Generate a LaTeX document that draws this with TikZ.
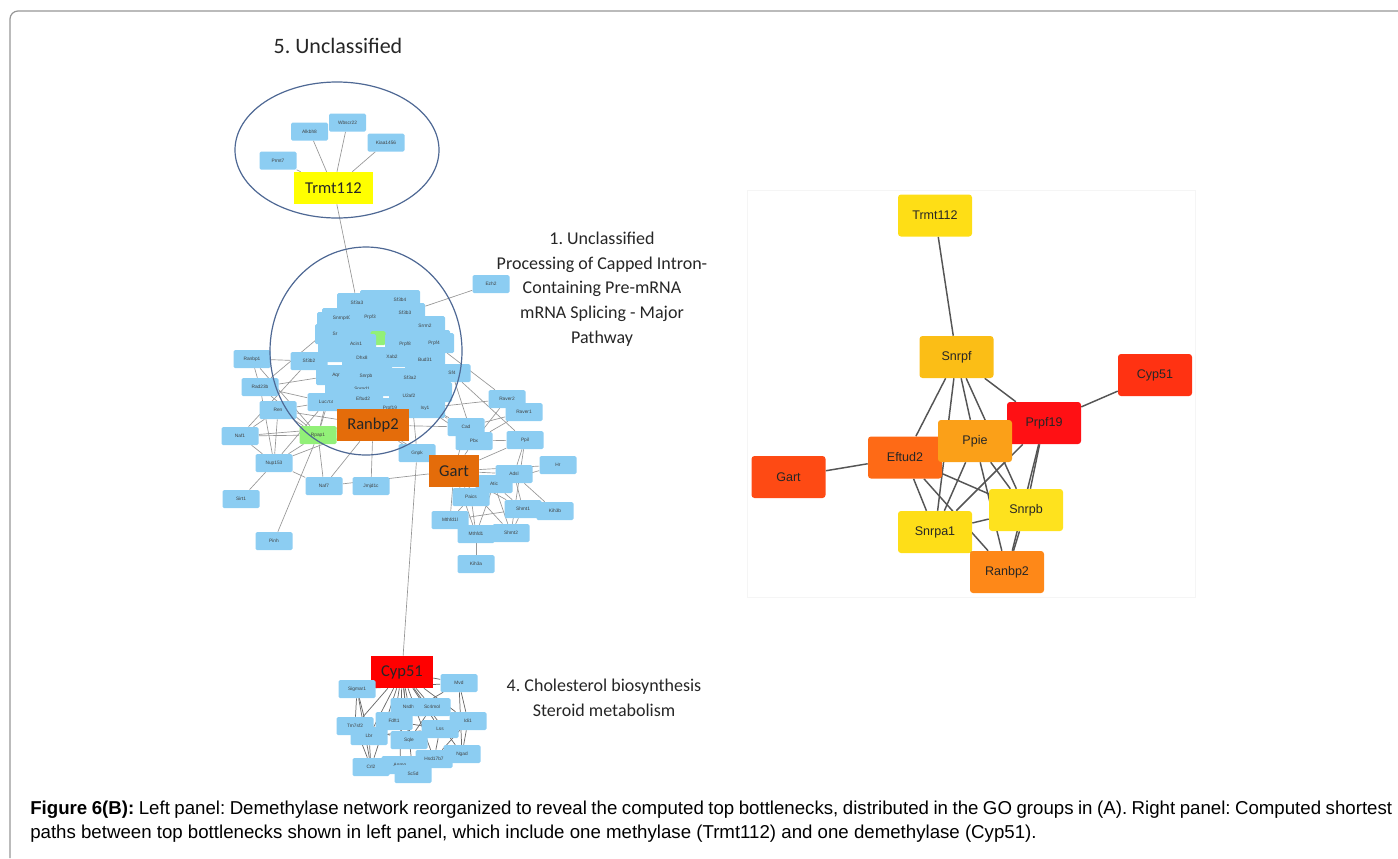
\documentclass[tikz,border=0pt]{standalone}
\usepackage{fontspec}
\setmainfont{Liberation Sans}
\newfontfamily\calibri{Carlito}
\usetikzlibrary{backgrounds}
\frenchspacing

\newdimen\px \px=0.75pt

\definecolor{geneblue}{RGB}{140,205,242}
\definecolor{genegreen}{RGB}{146,240,120}
\definecolor{hubyellow}{RGB}{255,255,0}
\definecolor{huborange}{RGB}{228,108,10}
\definecolor{hubred}{RGB}{255,0,0}
\definecolor{groupblue}{RGB}{78,104,148}
\definecolor{edgegray}{RGB}{150,150,150}
\definecolor{edgedark}{RGB}{105,105,105}
\definecolor{pathgray}{RGB}{85,85,85}
\definecolor{framegray}{RGB}{150,150,150}
\definecolor{cTrmt}{RGB}{254,222,22}
\definecolor{cSnrpf}{RGB}{251,190,22}
\definecolor{cCyp}{RGB}{255,50,18}
\definecolor{cPrpf}{RGB}{255,16,20}
\definecolor{cPpie}{RGB}{251,160,24}
\definecolor{cEftud}{RGB}{254,106,22}
\definecolor{cGart}{RGB}{254,74,20}
\definecolor{cSnrpb}{RGB}{254,226,30}
\definecolor{cSnrpa}{RGB}{254,222,24}
\definecolor{cRanbp}{RGB}{254,136,24}

\tikzset{
  gene/.style={fill=geneblue, rounded corners=1.5\px, minimum width=37\px, minimum height=18\px,
    inner sep=0pt, text=black!75, font=\fontsize{3.6}{4}\selectfont},
  blobgene/.style={gene, minimum width=40\px, minimum height=20\px},
  hub/.style={inner sep=0pt, minimum height=32\px, text=black!85, font=\calibri\fontsize{12.4}{13}\selectfont},
  pathnode/.style={rounded corners=3\px, minimum width=74\px, minimum height=42\px, inner sep=0pt,
    text=black!85, font=\fontsize{9.4}{10}\selectfont},
  edge/.style={draw=edgegray, line width=0.5pt},
  cedge/.style={draw=edgedark, line width=0.55pt},
  pathedge/.style={draw=pathgray, line width=1.1pt},
  group/.style={draw=groupblue, line width=0.9pt},
  grouplabel/.style={align=center, text=black!85, font=\calibri\fontsize{13.5}{18.6}\selectfont}
}

\begin{document}
\begin{tikzpicture}[x=0.75pt, y=-0.75pt]
\useasboundingbox (0,0) rectangle (1398,858);
% draw frame
\draw[framegray, line width=0.9pt, rounded corners=8\px] (10,858) -- (10,11) -- (1398,11);
\draw[black!4] (747,190) rectangle (1195,597);

% draw left network: small genes
\foreach \n/\x/\y/\t in {
  Prmt7/278/160.5/Prmt7, Alkbh8/309.5/131.5/Alkbh8, Wbscr22/347.5/122.5/Wbscr22, Kiaa1456/386/142.5/Kiaa1456,
  Ezh2/491/284/Ezh2, Ranbpl/252/359/Ranbp1, Rad23b/260/387/Rad23b, Ren/278/410/Ren,
  Naf1/240/436/Naf1, Nup153/274/463/Nup153, Naf7/324/486/Naf7, Jmjd1c/371/486/Jmjd1c,
  Sirt1/241/499/Sirt1, Pinh/274/541/Pinh, Luc7l3/326/402/Luc7l3,
  Raver2/507/399/Raver2, Raver1/524/412/Raver1, Cad/466/427/Cad, Pbx/474/441/Pbx, Ppil/525/440/Ppil,
  Gnpk/417/453/Gnpk, Hr/558/465/Hr, Adsl/514/474/Adsl, Atic/494/484/Atic, Paics/471/497/Paics,
  Shmt1/523/509/Shmt1, Kih3b/555/511/Kih3b, Mthfd1l/450/520/Mthfd1l, Mthfd1/476/534/Mthfd1,
  Shmt2/511/533/Shmt2, Kih3a/476/564/Kih3a}
  \node[gene] (\n) at (\x,\y) {\t};
\node[gene, fill=genegreen] (Rpap1) at (318,435) {Rpap1};

% draw splicing cluster
\foreach \n/\x/\y in {f1/337/322, f2/372/326, f3/430/340, f4/338/352, f5/372/368,
  f6/430/376, f7/345/390, f8/432/392, f9/395/386, f10/380/300, f11/412/326}
  \node[blobgene] (\n) at (\x,\y) {};
\node[gene, fill=genegreen, minimum width=15\px, minimum height=14\px] (Ppie) at (378,338) {};
\foreach \n/\x/\y/\t in {
  Sf3b4/400/300/Sf3b4, Sf3a3/357/303/Sf3a3, Snrnp40/342/318/Snrnp40, Prpf3/370/317/Prpf3,
  Sf3b3/405/313/Sf3b3, Srrm2/425/326/Srrm2, Srsf1/335/334/Sr, Acin1/356/344/Acin1,
  Prpf8/405/344/Prpf8, Prpf4/434/343/Prpf4, Dhx8/362/358/Dhx8, Xab2/392/357/Xab2,
  Bud31/425/360/Bud31, Aqr/336/375/Aqr, Snrpb/366/376/Snrpb, Sf3a2/410/378/Sf3a2,
  Snrpd1/362/389/Snrpd1, Eftud2/363/399/Eftud2, U2af2/409/396/U2af2, Prpf19/390/408/Prpf19,
  Isy1/425/408/Isy1}
  \node[blobgene] (\n) at (\x,\y) {\t};
\node[gene] (Sf3b2) at (309,361) {Sf3b2};
\node[gene] (Sf4) at (452,373) {Sf4};

% draw hubs
\node[hub, fill=hubyellow, minimum width=79\px] (Trmt) at (333.5,188) {Trmt112};
\node[hub, fill=huborange, minimum width=72\px] (Ranbp2) at (373,425) {Ranbp2};
\node[hub, fill=huborange, minimum width=50\px] (Gart) at (454,471) {Gart};
\node[hub, fill=hubred, minimum width=62\px] (Cyp51) at (402,672) {Cyp51};

% draw cholesterol cluster
\foreach \n/\x/\y/\t in {
  Sigmar1/357/689/Sigmar1, Mvd/459/683/Mvd, Nsdhl/409/707/Nsdhl, Sc4mol/432/707/Sc4mol,
  Tm7sf2/355/726/Tm7sf2, Lbr/369/736/Lbr, Fdft1/394/721/Fdft1, Idi1/468/721/Idi1,
  Lss/440/729/Lss, Sqle/409/740/Sqle, Ngad/462/754/Ngad, Hsd17b7/434/759/Hsd17b7,
  Crl2/371/767/Crl2, Agmo/400/765/Agmo, Sc5d/413/774/Sc5d}
  \node[gene] (\n) at (\x,\y) {\t};

% draw left edges
\begin{scope}[on background layer]
\foreach \a/\b in {Trmt/Prmt7, Trmt/Alkbh8, Trmt/Wbscr22, Trmt/Kiaa1456, Trmt/Sf3a3, Ezh2/Sf3b3,
  Ranbpl/Sf3b2, Ranbpl/Rpap1, Ranbpl/Rad23b, Rad23b/Nup153, Rad23b/Rpap1, Rad23b/Luc7l3, Rad23b/Aqr,
  Ren/Rpap1, Ren/Nup153, Ren/Luc7l3, Ren/Ranbp2, Naf1/Rpap1, Naf1/Nup153, Naf1/Ranbp2, Naf1/Ren,
  Nup153/Rpap1, Nup153/Sirt1, Nup153/Naf7, Nup153/Ranbp2, Rpap1/Naf7, Rpap1/Pinh, Rpap1/Ranbp2,
  Rpap1/Luc7l3, Naf7/Ranbp2, Jmjd1c/Ranbp2, Rpap1/Aqr, Ranbp2/Gart, Ranbp2/Cad, Ranbp2/Gnpk,
  Gart/Cad, Gart/Pbx, Gart/Ppil, Gart/Adsl, Gart/Atic, Gart/Paics, Gart/Mthfd1l, Gart/Mthfd1,
  Gart/Shmt1, Gart/Shmt2, Gart/Hr, Gart/Gnpk, Gart/Naf7, Cad/Raver1, Pbx/Raver2, Pbx/Raver1,
  Pbx/Ppil, Cad/Isy1, Pbx/Sf4, Raver2/Isy1, Ppil/Adsl, Ppil/Shmt2, Adsl/Atic, Adsl/Paics,
  Adsl/Shmt1, Atic/Paics, Atic/Shmt1, Atic/Shmt2, Atic/Mthfd1, Paics/Mthfd1l, Paics/Mthfd1,
  Mthfd1/Shmt2, Mthfd1l/Shmt1, Shmt1/Kih3b, Shmt1/Shmt2, Mthfd1/Kih3a, Kih3b/Adsl, Hr/Atic,
  Cad/U2af2, Pbx/U2af2, Gnpk/Sf3a2, Ppil/Sf4, Cyp51/Gnpk, Rad23b/Snrnp40, Naf1/Sf3b2,
  Nup153/Luc7l3, Raver2/Prpf4}
  \draw[edge] (\a) -- (\b);
\foreach \b in {Sigmar1, Mvd, Nsdhl, Sc4mol, Tm7sf2, Fdft1, Idi1, Lss, Lbr, Sqle, Hsd17b7, Ngad, Crl2, Agmo, Sc5d}
  \draw[cedge] (Cyp51) -- (\b);
\foreach \a/\b in {Sigmar1/Tm7sf2, Sigmar1/Lbr, Sigmar1/Crl2, Tm7sf2/Crl2, Lbr/Crl2, Mvd/Idi1,
  Mvd/Ngad, Idi1/Ngad, Idi1/Hsd17b7, Fdft1/Lss, Fdft1/Sqle, Sqle/Lss, Lss/Hsd17b7, Sc4mol/Sqle,
  Nsdhl/Sqle, Tm7sf2/Sqle, Lbr/Lss, Mvd/Fdft1, Agmo/Hsd17b7, Sc5d/Ngad, Crl2/Sc5d, Sigmar1/Mvd}
  \draw[cedge] (\a) -- (\b);
\end{scope}

% draw GO groups
\draw[group] (337,150) ellipse [x radius=102\px, y radius=68\px];
\draw[group] (366,351) ellipse [x radius=96\px, y radius=104\px];
\node[grouplabel, font=\calibri\fontsize{16.5}{18}\selectfont] (g5) at (338,46) {5. Unclassified};
\node[grouplabel] (g1) at (602,289) {1. Unclassified\\Processing of Capped Intron-\\Containing Pre-mRNA\\mRNA Splicing - Major\\Pathway};
\node[grouplabel] (g4) at (604,698) {4. Cholesterol biosynthesis\\Steroid metabolism};

% draw right network: shortest paths
\node[pathnode, fill=cTrmt] (rTrmt) at (935,215.5) {Trmt112};
\node[pathnode, fill=cSnrpf] (rSnrpf) at (956.5,357) {Snrpf};
\node[pathnode, fill=cCyp] (rCyp) at (1155,375) {Cyp51};
\node[pathnode, fill=cPrpf] (rPrpf) at (1044,423) {Prpf19};
\node[pathnode, fill=cEftud] (rEftud) at (905,457.5) {Eftud2};
\node[pathnode, fill=cPpie] (rPpie) at (975,441) {Ppie};
\node[pathnode, fill=cGart] (rGart) at (788.5,477) {Gart};
\node[pathnode, fill=cSnrpb] (rSnrpb) at (1026,510) {Snrpb};
\node[pathnode, fill=cSnrpa] (rSnrpa) at (935,532) {Snrpa1};
\node[pathnode, fill=cRanbp] (rRanbp) at (1007,572) {Ranbp2};
\begin{scope}[on background layer]
\foreach \a/\b in {rTrmt/rSnrpf, rSnrpf/rPrpf, rSnrpf/rEftud, rSnrpf/rSnrpa, rSnrpf/rPpie,
  rSnrpf/rSnrpb, rPrpf/rCyp, rGart/rEftud, rEftud/rSnrpb, rEftud/rSnrpa, rEftud/rRanbp,
  rPpie/rSnrpa, rPpie/rSnrpb, rPpie/rRanbp, rPrpf/rSnrpa, rPrpf/rSnrpb, rPrpf/rRanbp,
  rSnrpa/rSnrpb, rSnrpa/rRanbp, rSnrpb/rRanbp}
  \draw[pathedge] (\a) -- (\b);
\end{scope}

% draw caption
\node[anchor=north west, inner sep=0pt, text width=1362\px, align=justify,
  font=\fontsize{14}{18}\selectfont] (caption) at (30,801)
  {\textbf{Figure 6(B):} Left panel: Demethylase network reorganized to reveal the computed top bottlenecks, distributed in the GO groups in (A). Right panel: Computed shortest\linebreak paths between top bottlenecks shown in left panel, which include one methylase (Trmt112) and one demethylase (Cyp51).};
\end{tikzpicture}
\end{document}
